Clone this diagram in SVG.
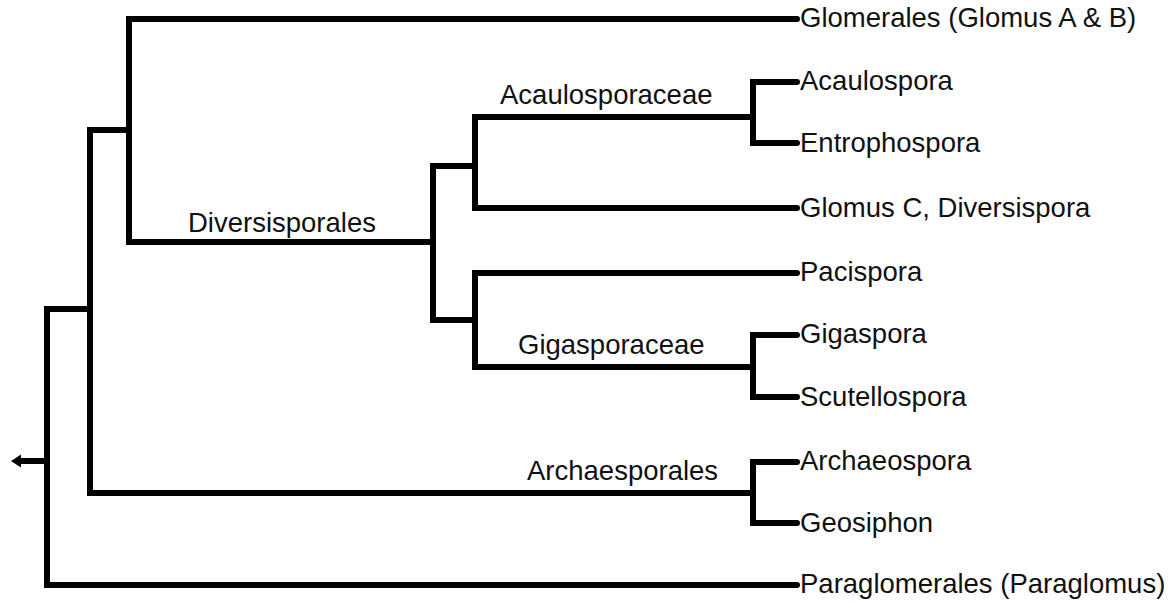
<svg xmlns="http://www.w3.org/2000/svg" width="1170" height="603" viewBox="0 0 1170 603">
<style>
.e{fill:none;stroke:#000;stroke-width:6;stroke-linejoin:miter;stroke-linecap:round}
.t{font-family:"Liberation Sans",Arial,sans-serif;font-size:27.5px;fill:#111}
</style>
<rect width="1170" height="603" fill="#fff"/>
<g id="connectors">
<path class="e" d="M797,19 H129 V242 H433"/>
<path class="e" d="M129,130 H90 V493 H753"/>
<path class="e" d="M797,585 H47 V309 H90"/>
<path class="e" d="M475,166 H433 V320 H475"/>
<path class="e" d="M753,117 H475 V208 H797"/>
<path class="e" d="M797,82 H753 V143 H797"/>
<path class="e" d="M797,273 H475 V367 H753"/>
<path class="e" d="M797,335 H753 V397 H797"/>
<path class="e" d="M797,462 H753 V523 H797"/>
<path class="e" d="M47,461 H18" style="stroke-linecap:butt"/>
<polygon points="11,461 21,454.5 21,467.5" fill="#000"/>
</g>
<g id="n-glomerales"><text class="t" x="800" y="27">Glomerales (Glomus A &amp; B)</text></g>
<g id="n-acaulosporaceae"><text class="t" x="500" y="104">Acaulosporaceae</text></g>
<g id="n-acaulospora"><text class="t" x="800" y="90">Acaulospora</text></g>
<g id="n-entrophospora"><text class="t" x="800" y="152">Entrophospora</text></g>
<g id="n-diversisporales"><text class="t" x="188" y="232">Diversisporales</text></g>
<g id="n-glomusc"><text class="t" x="800" y="217">Glomus C, Diversispora</text></g>
<g id="n-pacispora"><text class="t" x="800" y="281">Pacispora</text></g>
<g id="n-gigasporaceae"><text class="t" x="518" y="354">Gigasporaceae</text></g>
<g id="n-gigaspora"><text class="t" x="800" y="343">Gigaspora</text></g>
<g id="n-scutellospora"><text class="t" x="800" y="406">Scutellospora</text></g>
<g id="n-archaesporales"><text class="t" x="527" y="480">Archaesporales</text></g>
<g id="n-archaeospora"><text class="t" x="800" y="470">Archaeospora</text></g>
<g id="n-geosiphon"><text class="t" x="800" y="532">Geosiphon</text></g>
<g id="n-paraglomerales"><text class="t" x="800" y="593">Paraglomerales (Paraglomus)</text></g>
</svg>
